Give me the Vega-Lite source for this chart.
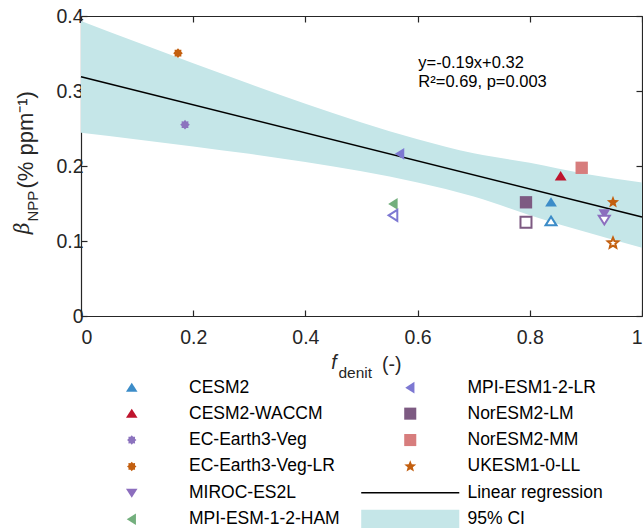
{
  "$schema": "https://vega.github.io/schema/vega-lite/v6.json",
  "width": 561,
  "height": 300,
  "autosize": {"type": "none"},
  "padding": {"left": 81, "top": 16, "right": 1, "bottom": 212},
  "background": "white",
  "config": {
    "view": {"stroke": null},
    "font": "Liberation Sans",
    "axis": {
      "grid": false,
      "domainColor": "#262626",
      "tickColor": "#262626",
      "labelColor": "#262626",
      "labelFont": "Liberation Sans",
      "labelFontSize": 19.5,
      "tickSize": -6,
      "domainWidth": 1.2,
      "tickWidth": 1.2
    },
    "legend": {
      "columnPadding": 18.5,
      "rowPadding": 6.4,
      "symbolSize": 110,
      "symbolOffset": 43,
      "labelOffset": 48.5,
      "symbolStrokeWidth": 0,
      "labelFontSize": 17.5,
      "labelFont": "Liberation Sans",
      "labelColor": "black",
      "labelLimit": 300,
      "padding": 0
    }
  },
  "layer": [
    {
      "data": {"values": [
        {"x": 0.0, "lo": 0.2445, "hi": 0.3935},
        {"x": 0.1, "lo": 0.2355, "hi": 0.365},
        {"x": 0.2, "lo": 0.2261, "hi": 0.3371},
        {"x": 0.3, "lo": 0.2162, "hi": 0.3096},
        {"x": 0.4, "lo": 0.2054, "hi": 0.283},
        {"x": 0.5, "lo": 0.1931, "hi": 0.2579},
        {"x": 0.6, "lo": 0.178, "hi": 0.2356},
        {"x": 0.7, "lo": 0.1593, "hi": 0.2169},
        {"x": 0.8, "lo": 0.1344, "hi": 0.2044},
        {"x": 0.9, "lo": 0.1119, "hi": 0.1895},
        {"x": 1.0, "lo": 0.091, "hi": 0.178}
      ]},
      "mark": {"type": "area", "color": "#c5e6e8", "opacity": 1, "interpolate": "monotone"},
      "encoding": {
        "x": {"field": "x", "type": "quantitative", "scale": {"domain": [0, 1], "nice": false},
              "axis": {"orient": "bottom", "values": [0, 0.2, 0.4, 0.6, 0.8, 1], "format": "~g", "title": null, "labelPadding": 18}},
        "y": {"field": "lo", "type": "quantitative", "scale": {"domain": [0, 0.4], "nice": false},
              "axis": {"orient": "left", "values": [0, 0.1, 0.2, 0.3, 0.4], "format": "~g", "title": null, "labelPadding": 4}},
        "y2": {"field": "hi"}
      }
    },
    {
      "data": {"values": [
        {"x": 0, "y": 0.319},
        {"x": 1, "y": 0.132}
      ]},
      "mark": {"type": "line", "color": "black", "strokeWidth": 1.6},
      "encoding": {
        "x": {"field": "x", "type": "quantitative",
              "axis": {"orient": "top", "values": [0, 0.2, 0.4, 0.6, 0.8, 1], "labels": false, "title": null}},
        "y": {"field": "y", "type": "quantitative",
              "axis": {"orient": "right", "values": [0, 0.1, 0.2, 0.3, 0.4], "labels": false, "title": null}}
      }
    },
    {
      "data": {"values": [
        {"model": "CESM2", "x": 0.8378, "y": 0.1516},
        {"model": "CESM2-WACCM", "x": 0.855, "y": 0.1864},
        {"model": "EC-Earth3-Veg", "x": 0.1854, "y": 0.2551},
        {"model": "EC-Earth3-Veg-LR", "x": 0.1729, "y": 0.3505},
        {"model": "MIROC-ES2L", "x": 0.9328, "y": 0.1365},
        {"model": "MPI-ESM-1-2-HAM", "x": 0.5567, "y": 0.1494},
        {"model": "MPI-ESM1-2-LR", "x": 0.5686, "y": 0.2163},
        {"model": "NorESM2-LM", "x": 0.7932, "y": 0.1516},
        {"model": "NorESM2-MM", "x": 0.8925, "y": 0.1976},
        {"model": "UKESM1-0-LL", "x": 0.9483, "y": 0.1516}
      ]},
      "mark": {"type": "point", "filled": true, "opacity": 1, "size": 115, "strokeWidth": 0},
      "encoding": {
        "x": {"field": "x", "type": "quantitative", "axis": null},
        "y": {"field": "y", "type": "quantitative", "axis": null},
        "color": {"field": "model", "type": "nominal",
          "scale": {
            "domain": ["CESM2", "CESM2-WACCM", "EC-Earth3-Veg", "EC-Earth3-Veg-LR", "MIROC-ES2L", "MPI-ESM-1-2-HAM", "MPI-ESM1-2-LR", "NorESM2-LM", "NorESM2-MM", "UKESM1-0-LL", "Linear regression", "95% CI"],
            "range": ["#3c8cc8", "#be142d", "#8c73be", "#c35f0f", "#8c6ebe", "#73af7d", "#7d78d2", "#7d5a82", "#d77d7d", "#c35f0f", "#000000", "#c5e6e8"]
          },
          "legend": {"orient": "none", "legendX": -1, "legendY": 362.5, "columns": 2, "title": null, "direction": "vertical"}},
        "shape": {"field": "model", "type": "nominal",
          "scale": {
            "domain": ["CESM2", "CESM2-WACCM", "EC-Earth3-Veg", "EC-Earth3-Veg-LR", "MIROC-ES2L", "MPI-ESM-1-2-HAM", "MPI-ESM1-2-LR", "NorESM2-LM", "NorESM2-MM", "UKESM1-0-LL", "Linear regression", "95% CI"],
            "range": [
              "M-9.35,-1.81M9.35,1.81M0,-0.95L1.1,0.8L-1.1,0.8Z",
              "M-9.35,-1.81M9.35,1.81M0,-0.95L1.1,0.8L-1.1,0.8Z",
              "M-9.35,-1.81M9.35,1.81M0.9,0L0.61,0.25L0.636,0.636L0.25,0.61L0,0.9L-0.25,0.61L-0.636,0.636L-0.61,0.25L-0.9,0L-0.61,-0.25L-0.636,-0.636L-0.25,-0.61L0,-0.9L0.25,-0.61L0.636,-0.636L0.61,-0.25Z",
              "M-9.35,-1.81M9.35,1.81M0.9,0L0.61,0.25L0.636,0.636L0.25,0.61L0,0.9L-0.25,0.61L-0.636,0.636L-0.61,0.25L-0.9,0L-0.61,-0.25L-0.636,-0.636L-0.25,-0.61L0,-0.9L0.25,-0.61L0.636,-0.636L0.61,-0.25Z",
              "M-9.35,-1.81M9.35,1.81M0,0.95L1.1,-0.8L-1.1,-0.8Z",
              "M-9.35,-1.81M9.35,1.81M-0.95,0L0.8,-1.1L0.8,1.1Z",
              "M-9.35,-1.81M9.35,1.81M-0.95,0L0.8,-1.1L0.8,1.1Z",
              "M-9.35,-1.81M9.35,1.81M-1.15,-1.15L1.15,-1.15L1.15,1.15L-1.15,1.15Z",
              "M-9.35,-1.81M9.35,1.81M-1.15,-1.15L1.15,-1.15L1.15,1.15L-1.15,1.15Z",
              "M-9.35,-1.81M9.35,1.81M0,-1.2L0.3,-0.42L1.14,-0.37L0.49,0.16L0.71,0.97L0,0.52L-0.71,0.97L-0.49,0.16L-1.14,-0.37L-0.3,-0.42Z",
              "M-9.35,-1.81M9.35,1.81M-9.35,-0.14L9.35,-0.14L9.35,0.14L-9.35,0.14Z",
              "M-9.35,-1.81L9.35,-1.81L9.35,1.81L-9.35,1.81Z"
            ]
          },
          "legend": {"orient": "none", "legendX": -1, "legendY": 362.5, "columns": 2, "title": null, "direction": "vertical"}}
      }
    },
    {
      "data": {"values": [{"model": "CESM2", "x": 0.8378, "y": 0.1262}]},
      "mark": {"type": "point", "shape": "M0,-0.95L1.1,0.8L-1.1,0.8Z", "filled": false, "fill": "white", "stroke": "#3c8cc8", "opacity": 1, "size": 100, "strokeWidth": 2},
      "encoding": {
        "x": {"field": "x", "type": "quantitative", "axis": null},
        "y": {"field": "y", "type": "quantitative", "axis": null}
      }
    },
    {
      "data": {"values": [{"model": "MIROC-ES2L", "x": 0.9328, "y": 0.1284}]},
      "mark": {"type": "point", "shape": "M0,0.95L1.1,-0.8L-1.1,-0.8Z", "filled": false, "fill": "white", "stroke": "#8c6ebe", "opacity": 1, "size": 100, "strokeWidth": 2},
      "encoding": {
        "x": {"field": "x", "type": "quantitative", "axis": null},
        "y": {"field": "y", "type": "quantitative", "axis": null}
      }
    },
    {
      "data": {"values": [{"model": "MPI-ESM1-2-LR", "x": 0.5567, "y": 0.1342}]},
      "mark": {"type": "point", "shape": "M-0.95,0L0.8,-1.1L0.8,1.1Z", "filled": false, "fill": "white", "stroke": "#7d78d2", "opacity": 1, "size": 100, "strokeWidth": 2},
      "encoding": {
        "x": {"field": "x", "type": "quantitative", "axis": null},
        "y": {"field": "y", "type": "quantitative", "axis": null}
      }
    },
    {
      "data": {"values": [{"model": "NorESM2-LM", "x": 0.7932, "y": 0.1249}]},
      "mark": {"type": "point", "shape": "M-1.1,-1.1L1.1,-1.1L1.1,1.1L-1.1,1.1Z", "filled": false, "fill": "white", "stroke": "#7d5a82", "opacity": 1, "size": 100, "strokeWidth": 2},
      "encoding": {
        "x": {"field": "x", "type": "quantitative", "axis": null},
        "y": {"field": "y", "type": "quantitative", "axis": null}
      }
    },
    {
      "data": {"values": [{"model": "UKESM1-0-LL", "x": 0.9483, "y": 0.0972}]},
      "mark": {"type": "point", "shape": "M0,-1.1L0.29,-0.4L1.05,-0.35L0.47,0.15L0.65,0.89L0,0.5L-0.65,0.89L-0.47,0.15L-1.05,-0.35L-0.29,-0.4Z", "filled": false, "fill": "white", "stroke": "#c35f0f", "opacity": 1, "size": 100, "strokeWidth": 2},
      "encoding": {
        "x": {"field": "x", "type": "quantitative", "axis": null},
        "y": {"field": "y", "type": "quantitative", "axis": null}
      }
    },
    {
      "data": {"values": [
        {"x": 0.6013, "y": 0.3313, "label": "y=-0.19x+0.32"},
        {"x": 0.6013, "y": 0.3059, "label": "R²=0.69, p=0.003"}
      ]},
      "mark": {"type": "text", "align": "left", "baseline": "alphabetic", "fontSize": 16.5, "color": "black", "font": "Liberation Sans"},
      "encoding": {
        "x": {"field": "x", "type": "quantitative", "axis": null},
        "y": {"field": "y", "type": "quantitative", "axis": null},
        "text": {"field": "label"}
      }
    },
    {
      "data": {"values": [{"x": 0.451, "y": -0.0629, "label": "f"}]},
      "mark": {"type": "text", "align": "center", "baseline": "middle", "fontSize": 19.5, "fontStyle": "italic", "color": "#262626", "font": "Liberation Sans"},
      "encoding": {
        "x": {"field": "x", "type": "quantitative", "axis": null},
        "y": {"field": "y", "type": "quantitative", "axis": null},
        "text": {"field": "label"}
      }
    },
    {
      "data": {"values": [{"x": 0.459, "y": -0.0763, "label": "denit"}]},
      "mark": {"type": "text", "align": "left", "baseline": "middle", "fontSize": 15.5, "color": "#262626", "font": "Liberation Sans"},
      "encoding": {
        "x": {"field": "x", "type": "quantitative", "axis": null},
        "y": {"field": "y", "type": "quantitative", "axis": null},
        "text": {"field": "label"}
      }
    },
    {
      "data": {"values": [{"x": 0.5365, "y": -0.0656, "label": "(-)"}]},
      "mark": {"type": "text", "align": "left", "baseline": "middle", "fontSize": 19.5, "color": "#262626", "font": "Liberation Sans"},
      "encoding": {
        "x": {"field": "x", "type": "quantitative", "axis": null},
        "y": {"field": "y", "type": "quantitative", "axis": null},
        "text": {"field": "label"}
      }
    },
    {
      "data": {"values": [{"x": -0.1034, "y": 0.117, "label": "β"}]},
      "mark": {"type": "text", "align": "center", "baseline": "middle", "angle": 270, "fontSize": 20, "color": "#262626", "font": "DejaVu Serif", "fontStyle": "italic"},
      "encoding": {
        "x": {"field": "x", "type": "quantitative", "axis": null},
        "y": {"field": "y", "type": "quantitative", "axis": null},
        "text": {"field": "label"}
      }
    },
    {
      "data": {"values": [{"x": -0.0856, "y": 0.1465, "label": "NPP"}]},
      "mark": {"type": "text", "align": "center", "baseline": "middle", "angle": 270, "fontSize": 15, "color": "#262626", "font": "Liberation Sans"},
      "encoding": {
        "x": {"field": "x", "type": "quantitative", "axis": null},
        "y": {"field": "y", "type": "quantitative", "axis": null},
        "text": {"field": "label"}
      }
    },
    {
      "data": {"values": [{"x": -0.098, "y": 0.1699, "label": "(% ppm⁻¹)"}]},
      "mark": {"type": "text", "align": "left", "baseline": "middle", "angle": 270, "fontSize": 22, "color": "#262626", "font": "Liberation Sans"},
      "encoding": {
        "x": {"field": "x", "type": "quantitative", "axis": null},
        "y": {"field": "y", "type": "quantitative", "axis": null},
        "text": {"field": "label"}
      }
    }
  ],
  "resolve": {"axis": {"x": "independent", "y": "independent"}}
}
